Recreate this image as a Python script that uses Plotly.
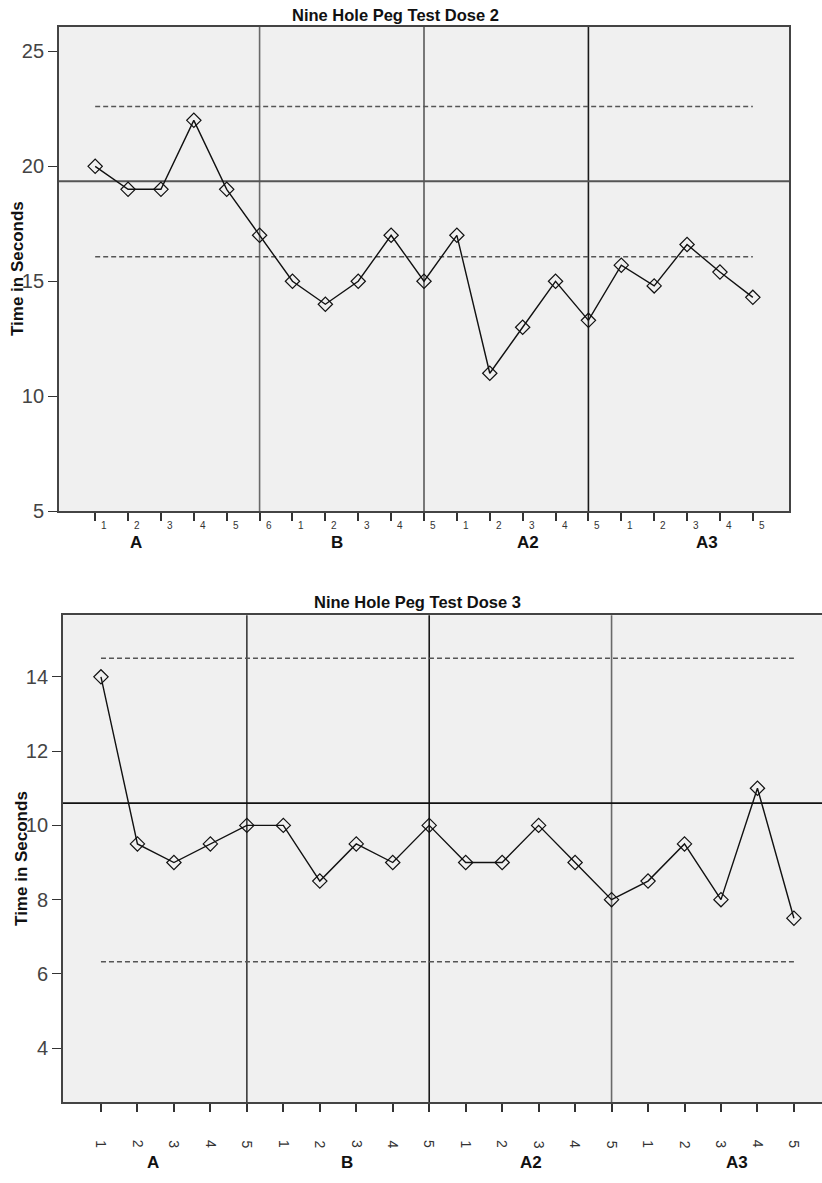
import plotly.graph_objects as go

# ---------------- data ----------------
phases = ["A", "B", "A2", "A3"]

# Dose 2
d2_title = "Nine Hole Peg Test Dose 2"
d2_phase_sizes = [6, 5, 5, 5]
d2_tick_labels = ["1", "2", "3", "4", "5", "6",
                  "1", "2", "3", "4", "5",
                  "1", "2", "3", "4", "5",
                  "1", "2", "3", "4", "5"]
d2_values = [20, 19, 19, 22, 19, 17,
             15, 14, 15, 17, 15,
             17, 11, 13, 15, 13.3,
             15.7, 14.8, 16.6, 15.4, 14.3]
d2_mean = 19.35
d2_upper = 22.6
d2_lower = 16.07
d2_yticks = [5, 10, 15, 20, 25]

# Dose 3
d3_title = "Nine Hole Peg Test Dose 3"
d3_phase_sizes = [5, 5, 5, 5]
d3_tick_labels = ["1", "2", "3", "4", "5",
                  "1", "2", "3", "4", "5",
                  "1", "2", "3", "4", "5",
                  "1", "2", "3", "4", "5"]
d3_values = [14, 9.5, 9, 9.5, 10,
             10, 8.5, 9.5, 9, 10,
             9, 9, 10, 9, 8,
             8.5, 9.5, 8, 11, 7.5]
d3_mean = 10.6
d3_upper = 14.5
d3_lower = 6.33
d3_yticks = [4, 6, 8, 10, 12, 14]

y_title = "Time in Seconds"

# ---------------- layout helpers ----------------
W, H = 822, 1183
FONT = "Liberation Sans, Arial, sans-serif"


def px_x(p):
    return p / W


def px_y(p):
    return 1 - p / H


fig = go.Figure()

panels = [
    dict(values=d2_values, ticks=d2_tick_labels, sizes=d2_phase_sizes,
         mean=d2_mean, upper=d2_upper, lower=d2_lower, yticks=d2_yticks,
         title=d2_title, xa="x", ya="y",
         xdom=[px_x(59), px_x(789)], ydom=[px_y(516), px_y(27)],
         xrange=[-0.1, 22.1], yrange=[5, 26.07],
         ticklab_y=530, ticklab_shift=9, ticklab_angle=0, ticklab_size=10,
         group_y=548, group_shift=[-25, -5, 22, 36],
         title_xy=(395, 15), ytitle_xy=(18, 271.5),
         vline_colors=["#6a6a6a", "#5a5a5a", "#1a1a1a"],
         mean_color="#555555", mirror_y=True),
    dict(values=d3_values, ticks=d3_tick_labels, sizes=d3_phase_sizes,
         mean=d3_mean, upper=d3_upper, lower=d3_lower, yticks=d3_yticks,
         title=d3_title, xa="x2", ya="y2",
         xdom=[px_x(63), 1.0], ydom=[px_y(1112.7), px_y(621)],
         xrange=[-0.041, 20.77], yrange=[2.54, 15.66],
         ticklab_y=1155, ticklab_shift=0, ticklab_angle=90, ticklab_size=14,
         group_y=1173, group_shift=[-3, 9, 11, 34],
         title_xy=(417, 608), ytitle_xy=(22, 867),
         vline_colors=["#3a3a3a", "#1a1a1a", "#6a6a6a"],
         mean_color="#111111", mirror_y=False),
]

shapes = []
annotations = []

for k, p in enumerate(panels):
    n = len(p["values"])
    xs = list(range(1, n + 1))
    fig.add_trace(go.Scatter(
        x=xs, y=p["values"], xaxis=p["xa"], yaxis=p["ya"],
        mode="lines+markers",
        line=dict(color="#111111", width=1.4),
        marker=dict(symbol="diamond-open", size=11,
                    color="#111111", line=dict(width=1.2, color="#111111")),
        showlegend=False, hoverinfo="skip",
    ))

    sfx = "" if k == 0 else "2"
    xaxis_name = "xaxis" + sfx
    yaxis_name = "yaxis" + sfx
    fig.update_layout({
        xaxis_name: dict(
            domain=p["xdom"], range=p["xrange"], anchor=p["ya"],
            showgrid=False, zeroline=False,
            showline=True, mirror=True, linecolor="#444444", linewidth=1.8,
            ticks="outside", ticklen=8, tickwidth=1.6, tickcolor="#333333",
            tickvals=xs, showticklabels=False, fixedrange=True,
        ),
        yaxis_name: dict(
            domain=p["ydom"], range=p["yrange"], anchor=p["xa"],
            showgrid=False, zeroline=False,
            showline=True, mirror=p["mirror_y"], linecolor="#444444", linewidth=1.8,
            ticks="outside", ticklen=9, tickwidth=1.4, tickcolor="#333333",
            tickvals=p["yticks"], ticktext=[str(v) for v in p["yticks"]],
            tickfont=dict(family=FONT, size=20, color="#444444"),
            fixedrange=True,
        ),
    })

    # phase boundary lines
    cum = 0
    bounds = []
    for s in p["sizes"]:
        cum += s
        bounds.append(cum)
    for b, col in zip(bounds[:-1], p["vline_colors"]):
        shapes.append(dict(type="line", xref=p["xa"], yref=p["ya"] + " domain",
                           x0=b, x1=b, y0=0, y1=1, layer="below",
                           line=dict(color=col, width=1.6)))

    # mean line
    shapes.append(dict(type="line", xref=p["xa"] + " domain", yref=p["ya"],
                       x0=0, x1=1, y0=p["mean"], y1=p["mean"], layer="below",
                       line=dict(color=p["mean_color"], width=1.8)))
    # control limits
    for lim in (p["upper"], p["lower"]):
        shapes.append(dict(type="line", xref=p["xa"], yref=p["ya"],
                           x0=1, x1=n, y0=lim, y1=lim, layer="below",
                           line=dict(color="#555555", width=1.5, dash="5px,3px")))

    # tick labels
    for x, lbl in zip(xs, p["ticks"]):
        annotations.append(dict(
            x=x, xref=p["xa"], y=px_y(p["ticklab_y"]), yref="paper",
            text=lbl, showarrow=False, xshift=p["ticklab_shift"],
            textangle=p["ticklab_angle"],
            font=dict(family=FONT, size=p["ticklab_size"], color="#333333"),
            xanchor="center", yanchor="middle",
        ))

    # phase group labels
    prev = 0
    for name, b, sh in zip(phases, bounds, p["group_shift"]):
        annotations.append(dict(
            x=(prev + b) / 2, xref=p["xa"], y=px_y(p["group_y"]), yref="paper",
            text="<b>" + name + "</b>", showarrow=False, xshift=sh,
            font=dict(family=FONT, size=17, color="#111111"),
            xanchor="center", yanchor="middle",
        ))
        prev = b

    # title
    tx, ty = p["title_xy"]
    annotations.append(dict(
        x=px_x(tx), y=px_y(ty), xref="paper", yref="paper",
        text="<b>" + p["title"] + "</b>", showarrow=False,
        font=dict(family=FONT, size=16.5, color="#111111"),
        xanchor="center", yanchor="middle",
    ))
    # y title
    yx, yy = p["ytitle_xy"]
    annotations.append(dict(
        x=px_x(yx), y=px_y(yy), xref="paper", yref="paper",
        text="<b>" + y_title + "</b>", showarrow=False, textangle=-90,
        font=dict(family=FONT, size=17, color="#111111"),
        xanchor="center", yanchor="middle",
    ))

fig.update_layout(
    width=W, height=H,
    margin=dict(l=0, r=0, t=0, b=0),
    paper_bgcolor="white",
    plot_bgcolor="#F0F0F0",
    shapes=shapes,
    annotations=annotations,
    showlegend=False,
)

fig.write_html(
    "out.html",
    config={"displayModeBar": False},
    post_script="document.body.style.margin='0px';document.body.style.overflow='hidden';",
)
